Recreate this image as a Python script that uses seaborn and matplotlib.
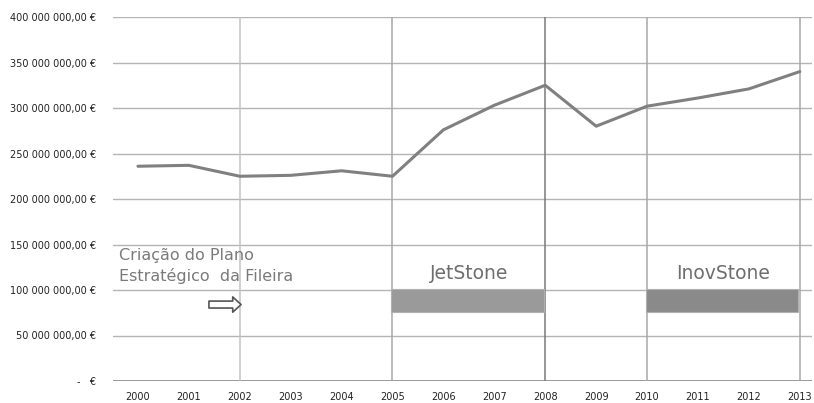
import numpy as np
import pandas as pd
import seaborn as sns
import matplotlib.pyplot as plt
import matplotlib.ticker as mticker

# data
years = [2000, 2001, 2002, 2003, 2004, 2005, 2006, 2007, 2008, 2009, 2010, 2011, 2012, 2013]
values = [236, 237, 225, 226, 231, 225, 276, 303, 325, 280, 302, 311, 321, 340]  # milhões €
milestone_years = [2002, 2005, 2008, 2010, 2013]
projects = ['JetStone', 'InovStone']
project_start = [2005, 2010]
project_end = [2008, 2013]
project_colors = ['#9a9a9a', '#8a8a8a']
plan_label = 'Criação do Plano\nEstratégico  da Fileira'
plan_year = 2002

df = pd.DataFrame({'Ano': years, 'Valor': [v * 1e6 for v in values]})

sns.set_style('white')
plt.rcParams['font.family'] = ['DejaVu Sans']

fig = plt.figure(figsize=(8.14, 4.03), dpi=100)
ax = fig.add_axes([113 / 814, 1 - 381 / 403, (812 - 113) / 814, (381 - 17) / 403])

# horizontal grid
ax.set_ylim(0, 400e6)
ax.set_xlim(1999.51, 2013.24)
ax.yaxis.set_major_locator(mticker.MultipleLocator(50e6))
ax.grid(axis='y', color='#b4b4b4', linewidth=1.0)
ax.grid(axis='x', visible=False)
ax.set_axisbelow(True)
for s in ax.spines.values():
    s.set_visible(False)
ax.axhline(0, color='#8c8c8c', linewidth=1.2, zorder=1)

# vertical marker lines
for yr in milestone_years:
    c = '#c4c4c4' if yr == 2002 else ('#7a7a7a' if yr == 2008 else '#a8a8a8')
    ax.axvline(yr, color=c, linewidth=1.1, zorder=1)

sns.lineplot(data=df, x='Ano', y='Valor', ax=ax, color='#808080', linewidth=2.2, zorder=3)

# project bars
for name, st, en, col in zip(projects, project_start, project_end, project_colors):
    ax.barh(88.5e6, en - st, left=st - 0.03, height=25e6, color=col, edgecolor='#b0b0b0',
            linewidth=0.8, zorder=2)
    ax.text((st + en) / 2, 118e6, name, ha='center', va='center', fontsize=13.5,
            color='#6e6e6e')

ax.text(1999.62, 126e6, plan_label, ha='left', va='center', fontsize=11.5,
        color='#7a7a7a', linespacing=1.4)
ax.annotate('', xy=(plan_year + 0.08, 84e6), xytext=(plan_year - 0.66, 84e6),
            arrowprops=dict(arrowstyle='simple,head_length=0.6,head_width=1.1,tail_width=0.5',
                            fc='white', ec='#555555', lw=1.2))

def euro_fmt(v, pos):
    if v == 0:
        return '-   €'
    return f'{v:,.2f} €'.replace(',', ' ').replace('.', ',').replace(' ', ' ')

ax.yaxis.set_major_formatter(mticker.FuncFormatter(euro_fmt))
ax.set_xticks(years)
ax.set_xticklabels([str(y) for y in years])
ax.tick_params(axis='both', length=0, labelsize=7, colors='#222222')
ax.tick_params(axis='x', pad=8)
ax.tick_params(axis='y', pad=12)
ax.set_xlabel('')
ax.set_ylabel('')

fig.savefig('out.png', dpi=100)
